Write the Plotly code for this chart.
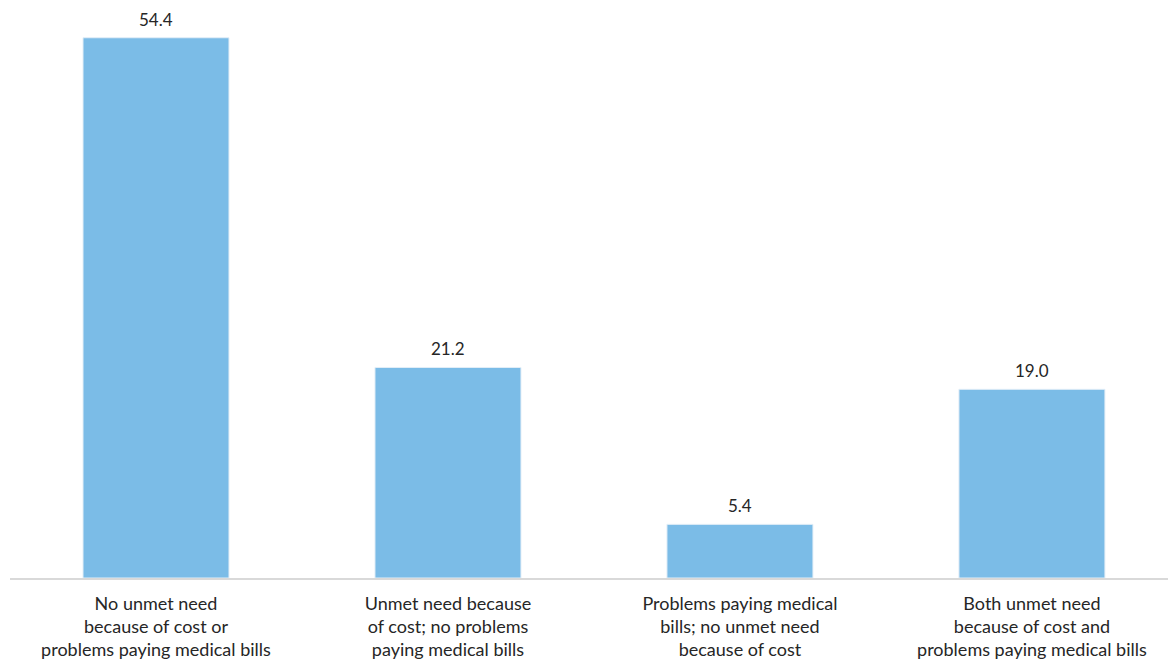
import plotly.graph_objects as go

categories = [
    "No unmet need<br>because of cost or<br>problems paying medical bills",
    "Unmet need because<br>of cost; no problems<br>paying medical bills",
    "Problems paying medical<br>bills; no unmet need<br>because of cost",
    "Both unmet need<br>because of cost and<br>problems paying medical bills",
]
values = [54.4, 21.2, 5.4, 19.0]
value_labels = ["54.4", "21.2", "5.4", "19.0"]

xs = list(range(len(categories)))

fig = go.Figure(
    go.Bar(
        x=xs,
        y=values,
        width=0.5,
        marker=dict(color="#7bbce7", line=dict(color="#e3eef7", width=1)),
        hoverinfo="skip",
    )
)

# value labels sitting above each bar
for x, v, lab in zip(xs, values, value_labels):
    fig.add_annotation(
        x=x, y=v, text=lab, showarrow=False,
        yanchor="bottom", yshift=6,
        font=dict(size=17, color="#262626"),
    )

fig.update_layout(
    width=1168,
    height=660,
    margin=dict(l=10, r=0, t=0, b=82),
    paper_bgcolor="white",
    plot_bgcolor="white",
    font=dict(family="Lato, 'Open Sans', sans-serif", size=17, color="#262626"),
    showlegend=False,
)
fig.update_xaxes(
    range=[-0.5, 3.466],
    tickmode="array",
    tickvals=xs,
    ticktext=categories,
    showline=True,
    linecolor="#d9d9d9",
    linewidth=2,
    ticks="",
    ticklabelstandoff=8,
    showgrid=False,
    zeroline=False,
    tickfont=dict(size=18, color="#262626"),
)
fig.update_yaxes(
    range=[0, 58.2],
    visible=False,
    showgrid=False,
    zeroline=False,
)

fig.write_html("out.html")
